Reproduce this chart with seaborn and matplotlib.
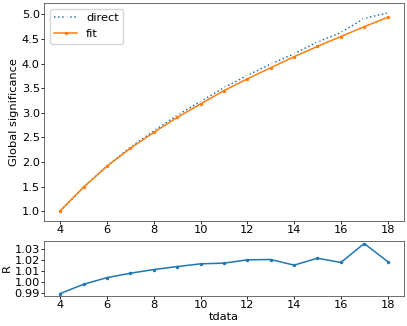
import numpy as np
import seaborn as sns
import matplotlib
matplotlib.use("Agg")
import matplotlib.pyplot as plt

plt.rcParams['font.size'] = 8.2

tdata = [4, 5, 6, 7, 8, 9, 10, 11, 12, 13, 14, 15, 16, 17, 18]
direct = [1.00, 1.49, 1.92, 2.30, 2.63, 2.95, 3.23, 3.51, 3.76, 3.99, 4.20, 4.44, 4.63, 4.92, 5.03]
fit = [1.01, 1.49, 1.915, 2.28, 2.60, 2.905, 3.18, 3.45, 3.69, 3.915, 4.14, 4.35, 4.55, 4.75, 4.94]
ratio = [0.9895, 0.9979, 1.0039, 1.0079, 1.0112, 1.0139, 1.0164, 1.0170, 1.0200,
         1.0203, 1.0152, 1.0215, 1.0176, 1.0348, 1.0185]

fig = plt.figure(figsize=(4.07, 3.26), dpi=100)
ax1 = fig.add_axes([0.108, 0.322, 0.8845, 0.6687])
ax2 = fig.add_axes([0.108, 0.092, 0.8845, 0.1687])

sns.lineplot(x=tdata, y=direct, ax=ax1, color='C0', linestyle=':', marker='x',
             markersize=3, markeredgewidth=0.8, linewidth=1.1, label='direct')
sns.lineplot(x=tdata, y=fit, ax=ax1, color='C1', linestyle='-', marker='o',
             markersize=2.5, markeredgewidth=0, linewidth=1.1, label='fit')
ax1.set_ylabel('Global significance', labelpad=2)
ax1.set_yticks([1.0, 1.5, 2.0, 2.5, 3.0, 3.5, 4.0, 4.5, 5.0])
ax1.legend(loc='upper left', borderaxespad=0.5)

sns.lineplot(x=tdata, y=ratio, ax=ax2, color='C0', marker='o',
             markersize=2.5, markeredgewidth=0, linewidth=1.1)
ax2.set_ylabel('R', labelpad=2)
ax2.set_xlabel('tdata', labelpad=1)
ax2.set_yticks([0.99, 1.00, 1.01, 1.02, 1.03])

for ax in (ax1, ax2):
    ax.set_xticks([4, 6, 8, 10, 12, 14, 16, 18])
    ax.tick_params(length=2, width=0.6, pad=1)
    for s in ax.spines.values():
        s.set_linewidth(0.6)
        s.set_color('#555555')

plt.savefig('out.png', dpi=100)
